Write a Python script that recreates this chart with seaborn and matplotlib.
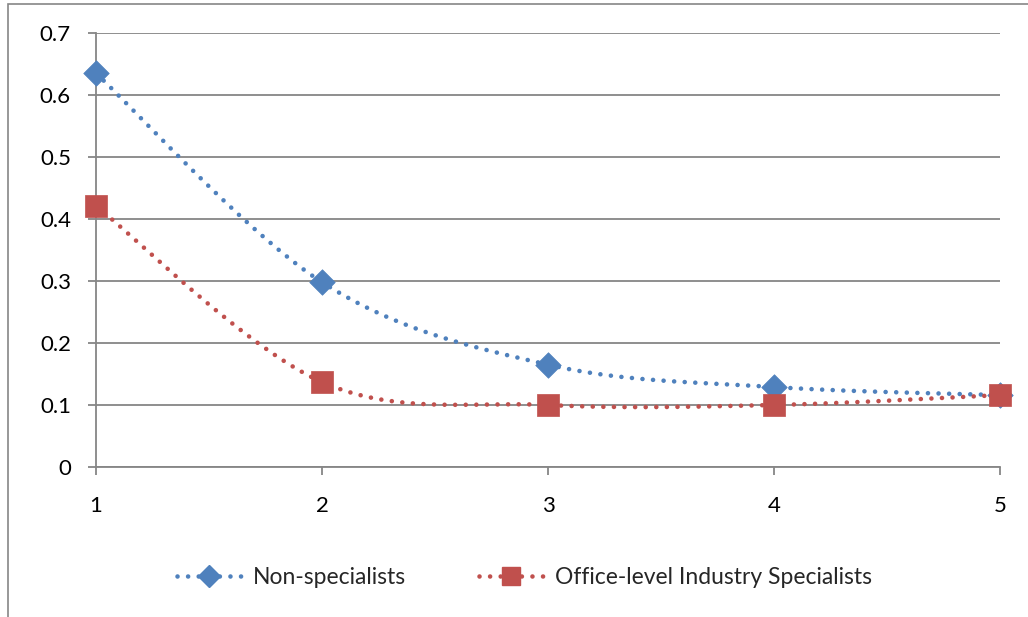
import numpy as np
import pandas as pd
import matplotlib
matplotlib.use("Agg")
import matplotlib.pyplot as plt
from matplotlib.lines import Line2D
from matplotlib.patches import Rectangle
import seaborn as sns

# Series values
x_vals = [1, 2, 3, 4, 5]
non_specialists = [0.635, 0.298, 0.165, 0.129, 0.116]
office_specialists = [0.421, 0.137, 0.100, 0.100, 0.116]
series_names = ["Non-specialists", "Office-level Industry Specialists"]
y_ticks = [0, 0.1, 0.2, 0.3, 0.4, 0.5, 0.6, 0.7]
y_tick_labels = ["0", "0.1", "0.2", "0.3", "0.4", "0.5", "0.6", "0.7"]

BLUE = "#4F81BD"
RED = "#C0504D"
GRID = "#868686"


def smooth_curve(xs, ys, n=40):
    """Catmull-Rom style Bezier smoothing between consecutive points."""
    xs = np.asarray(xs, float)
    ys = np.asarray(ys, float)
    px = np.concatenate([[xs[0]], xs, [xs[-1]]])
    py = np.concatenate([[ys[0]], ys, [ys[-1]]])
    t = np.linspace(0, 1, n)
    out_x, out_y = [], []
    k = 1.0 / 6.0
    for i in range(1, len(px) - 2):
        p0 = np.array([px[i], py[i]])
        p3 = np.array([px[i + 1], py[i + 1]])
        c1 = p0 + k * (np.array([px[i + 1], py[i + 1]]) - np.array([px[i - 1], py[i - 1]]))
        c2 = p3 - k * (np.array([px[i + 2], py[i + 2]]) - np.array([px[i], py[i]]))
        b = (((1 - t) ** 3)[:, None] * p0 + (3 * (1 - t) ** 2 * t)[:, None] * c1
             + (3 * (1 - t) * t ** 2)[:, None] * c2 + (t ** 3)[:, None] * p3)
        out_x.extend(b[:, 0])
        out_y.extend(b[:, 1])
    return np.array(out_x), np.array(out_y)


sns.set_theme(style="white")
plt.rcParams["font.family"] = ["Lato", "DejaVu Sans"]

fig = plt.figure(figsize=(10.28, 6.17), dpi=100)
ax = fig.add_axes([96 / 1028, 1 - 467 / 617, 904 / 1028, 434 / 617])

# Outer chart frame
fig.patches.append(Rectangle((8 / 1028, -0.05), 1.2, 1 - 4 / 617 + 0.05,
                             transform=fig.transFigure, fill=False,
                             edgecolor=GRID, linewidth=1.2, zorder=0))

dot_style = (0, (0.01, 2.3))
for ys, color, marker, ms in [(non_specialists, BLUE, "D", 13),
                              (office_specialists, RED, "s", 15.5)]:
    sx, sy = smooth_curve(x_vals, ys)
    curve = pd.DataFrame({"x": sx, "y": sy})
    sns.lineplot(data=curve, x="x", y="y", ax=ax, color=color, lw=3.3,
                 linestyle=dot_style, dash_capstyle="round", sort=False,
                 estimator=None, zorder=3)
    pts = pd.DataFrame({"x": x_vals, "y": ys})
    sns.scatterplot(data=pts, x="x", y="y", ax=ax, color=color, marker=marker,
                    s=ms ** 2, edgecolor=color, linewidth=0.5, zorder=4,
                    clip_on=False)

ax.set_xlim(1, 5)
ax.set_ylim(0, 0.7)
ax.set_yticks(y_ticks)
ax.set_yticklabels(y_tick_labels)
ax.set_xticks(x_vals)
ax.set_xticklabels([str(v) for v in x_vals])
ax.set_xlabel("")
ax.set_ylabel("")

ax.grid(axis="y", color=GRID, linewidth=1.3, zorder=1)
ax.set_axisbelow(True)
for side in ["top", "right"]:
    ax.spines[side].set_visible(False)
for side in ["left", "bottom"]:
    ax.spines[side].set_color(GRID)
    ax.spines[side].set_linewidth(1.3)

ax.tick_params(axis="both", which="major", direction="out", length=6,
               width=1.3, color=GRID, labelsize=16, labelcolor="black",
               left=True, bottom=True)
ax.tick_params(axis="y", pad=12)
ax.tick_params(axis="x", pad=15)

handles = [
    Line2D([0], [0], color=BLUE, lw=3.3, linestyle=dot_style,
           dash_capstyle="round", marker="D", markersize=11),
    Line2D([0], [0], color=RED, lw=3.3, linestyle=dot_style,
           dash_capstyle="round", marker="s", markersize=13),
]
fig.legend(handles, series_names, loc="center", bbox_to_anchor=(0.51, 1 - 578 / 617),
           ncol=2, frameon=False, fontsize=16.5, handlelength=2.8,
           columnspacing=3.2, handletextpad=0.5)

fig.savefig("out.png", dpi=100, facecolor="white")
